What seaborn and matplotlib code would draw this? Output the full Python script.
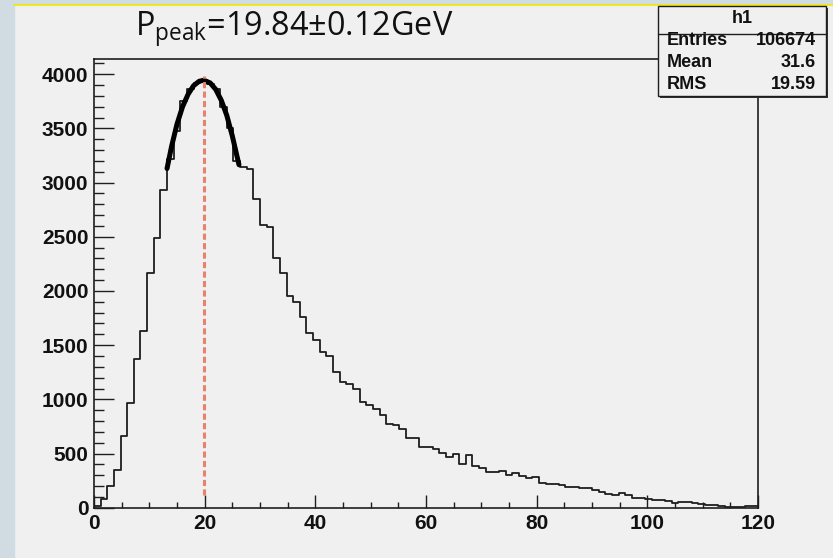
import numpy as np
import pandas as pd
import matplotlib
matplotlib.use("Agg")
import matplotlib.pyplot as plt
import seaborn as sns
from matplotlib.patches import Rectangle
from matplotlib.lines import Line2D
from matplotlib.ticker import MultipleLocator

# ---------------- data ----------------
bin_low = 0.0
bin_high = 120.0
n_bins = 100
counts = [20, 77, 200, 348, 658, 969, 1369, 1634, 2163, 2486,
          2932, 3220, 3477, 3754, 3860, 3920, 3945, 3910, 3868, 3700,
          3508, 3200, 3148, 3129, 2852, 2609, 2594, 2308, 2166, 1955,
          1900, 1758, 1615, 1545, 1438, 1396, 1252, 1162, 1140, 1097,
          976, 944, 911, 855, 776, 766, 724, 646, 646, 560,
          560, 538, 504, 470, 495, 405, 484, 382, 369, 329,
          329, 336, 304, 316, 293, 272, 284, 227, 215, 218,
          206, 194, 194, 181, 181, 160, 147, 129, 117, 132,
          120, 86, 86, 77, 68, 68, 58, 43, 55, 55,
          43, 37, 28, 22, 12, 5, 6, 9, 18, 12]

fit_x = [13.2, 14.0, 15.0, 16.0, 17.0, 18.0, 19.0, 19.84, 21.0, 22.0, 23.0, 24.0, 25.0, 26.2]
fit_y = [3130, 3330, 3540, 3700, 3815, 3895, 3935, 3945, 3920, 3860, 3760, 3620, 3430, 3165]

peak_x = 19.84
marker_y = [120, 3985]

title_text = r"P$_{\mathrm{peak}}$=19.84±0.12GeV"
stats_name = "h1"
stats_labels = ["Entries", "Mean", "RMS"]
stats_values = ["106674", "31.6", "19.59"]

x_major = [0, 20, 40, 60, 80, 100, 120]
y_major = [0, 500, 1000, 1500, 2000, 2500, 3000, 3500, 4000]
y_top = 4138

# ---------------- styling ----------------
BG = "#F0F0F0"
STRIP = "#D0DCE2"
LINE = "#1E1E1E"
RED = "#E9826B"

sns.set_theme(style="white")
plt.rcParams['font.family'] = ['Liberation Sans', 'DejaVu Sans']
plt.rcParams['mathtext.fontset'] = 'custom'
plt.rcParams['mathtext.rm'] = 'Open Sans'
plt.rcParams['mathtext.it'] = 'Open Sans'
plt.rcParams['mathtext.bf'] = 'Open Sans'

W, H = 833, 558
fig = plt.figure(figsize=(W / 100, H / 100), dpi=100, facecolor=BG)

def px(x0, y0, w, h):
    """pixel box (from top-left) -> figure fraction rect"""
    return (x0 / W, 1 - (y0 + h) / H, w / W, h / H)

# window decoration strips
fig.add_artist(Rectangle((0, 0), 14 / W, 1, transform=fig.transFigure, color=STRIP, zorder=0))
fig.add_artist(Rectangle((0, 1 - 4 / H), 1, 4 / H, transform=fig.transFigure, color=STRIP, zorder=0))
fig.add_artist(Line2D([14 / W, 1], [1 - 4.5 / H, 1 - 4.5 / H], transform=fig.transFigure,
                      color="#F5E800", lw=1.2, zorder=1))

ax = fig.add_axes(px(94, 59.3, 664, 448.4))
ax.set_facecolor(BG)

centers = [bin_low + (i + 0.5) * (bin_high - bin_low) / n_bins for i in range(n_bins)]
df = pd.DataFrame({"x": centers, "w": counts})
sns.histplot(data=df, x="x", weights="w", bins=n_bins, binrange=(bin_low, bin_high),
             element="step", fill=False, color=LINE, linewidth=1.3, ax=ax)

sns.lineplot(x=fit_x, y=fit_y, sort=False, color="black", linewidth=3.6, ax=ax, zorder=4)

ax.plot([peak_x, peak_x], marker_y, color=RED, linewidth=2.2, dashes=(2.0, 1.1), zorder=5)

ax.set_xlim(bin_low, bin_high)
ax.set_ylim(0, y_top)
ax.set_xlabel("")
ax.set_ylabel("")
ax.set_xticks(x_major)
ax.set_yticks(y_major)
ax.xaxis.set_minor_locator(MultipleLocator(5))
ax.yaxis.set_minor_locator(MultipleLocator(100))

for s in ax.spines.values():
    s.set_color(LINE)
    s.set_linewidth(1.2)

ax.tick_params(which='both', direction='in', top=False, right=False, left=True, bottom=True,
               color=LINE, width=1.0)
ax.tick_params(axis='y', which='major', length=14.4, pad=4.0)
ax.tick_params(axis='y', which='minor', length=7.2)
ax.tick_params(axis='x', which='major', length=9.1, pad=4.5)
ax.tick_params(axis='x', which='minor', length=4.5)
for lab in ax.get_xticklabels() + ax.get_yticklabels():
    lab.set_fontweight('bold')
    lab.set_fontsize(15)
    lab.set_color("#111111")

# title
fig.text(135 / W, 1 - 36 / H, title_text, fontfamily='Open Sans', fontsize=23.3,
         ha='left', va='baseline', color="#111111")

# stats box
bx0, by0, bx1, by1 = 658, 6, 825.7, 95.7
fig.add_artist(Rectangle(((bx0 + 2) / W, 1 - (by1 + 2) / H), (bx1 - bx0) / W, (by1 - by0) / H,
                         transform=fig.transFigure, facecolor="#333333", edgecolor='none', zorder=8))
fig.add_artist(Rectangle((bx0 / W, 1 - by1 / H), (bx1 - bx0) / W, (by1 - by0) / H,
                         transform=fig.transFigure, facecolor=BG, edgecolor=LINE, lw=1.0, zorder=9))
fig.add_artist(Line2D([bx0 / W, bx1 / W], [1 - 34.3 / H, 1 - 34.3 / H], transform=fig.transFigure,
                      color=LINE, lw=1.0, zorder=10))
fig.text((bx0 + bx1) / 2 / W, 1 - 18.3 / H, stats_name, ha='center', va='center',
         fontsize=13, fontweight='bold', zorder=11, color="#111111")
for i, (lab, val) in enumerate(zip(stats_labels, stats_values)):
    yy = 1 - (40.5 + 22.2 * i) / H
    fig.text(666.7 / W, yy, lab, ha='left', va='center', fontsize=13, fontweight='bold', zorder=11,
             color="#111111")
    fig.text(815.7 / W, yy, val, ha='right', va='center', fontsize=13, fontweight='bold', zorder=11,
             color="#111111")

fig.savefig("out.png", dpi=100, facecolor=BG)
